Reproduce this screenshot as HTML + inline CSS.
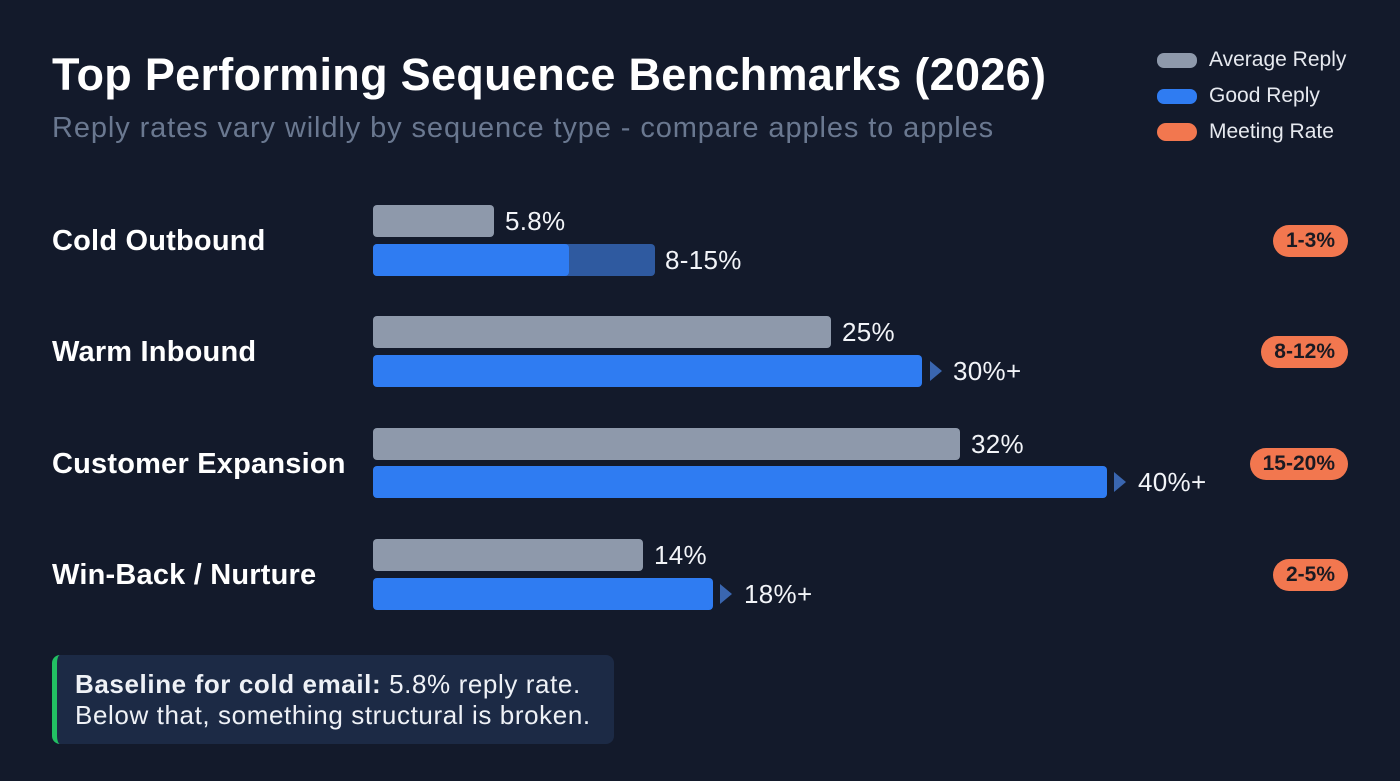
<!DOCTYPE html>
<html><head><meta charset="utf-8"><style>
*{margin:0;padding:0;box-sizing:border-box}
body{width:1400px;height:781px;background:#131a2b;font-family:"Liberation Sans",sans-serif;position:relative;overflow:hidden;color:#fff}
.a{position:absolute;white-space:nowrap}
.g{position:absolute;background:#8e99ab;border-radius:4px;height:32px;left:373px}
.b{position:absolute;background:#2f7cf2;border-radius:4px;height:32px;left:373px}
.v{position:absolute;font-size:26px;color:#f2f4f8;line-height:32px;letter-spacing:0.3px}
.c{position:absolute;left:52px;font-size:29px;font-weight:bold;line-height:32px;letter-spacing:0.2px}
.t{position:absolute;width:0;height:0;border-top:10px solid transparent;border-bottom:10px solid transparent;border-left:12px solid #3a66b0}
.p{position:absolute;right:52px;height:32px;border-radius:16px;background:#f2774f;color:#1a1a22;font-weight:bold;font-size:21px;line-height:32px;padding:0 13px}
.sw{position:absolute;left:1157px;width:40px;height:15px;border-radius:7px}
.lg{position:absolute;left:1209px;font-size:21px;color:#e6e9ef;line-height:24px}
</style></head><body>
<div class="a" style="left:52px;top:49px;font-size:45px;font-weight:bold;line-height:52px;letter-spacing:0.3px">Top Performing Sequence Benchmarks (2026)</div>
<div class="a" style="left:52px;top:111px;font-size:29px;color:#6a7890;line-height:34px;letter-spacing:0.9px">Reply rates vary wildly by sequence type - compare apples to apples</div>

<div class="sw" style="top:53px;background:#8e99ab"></div><div class="lg" style="top:48px">Average Reply</div>
<div class="sw" style="top:89px;background:#2f7cf2"></div><div class="lg" style="top:84px">Good Reply</div>
<div class="sw" style="top:123px;height:18px;border-radius:9px;background:#f2774f"></div><div class="lg" style="top:120px">Meeting Rate</div>

<div class="c" style="top:225px">Cold Outbound</div>
<div class="g" style="top:205px;width:121px"></div><div class="v" style="left:505px;top:205px">5.8%</div>
<div class="b" style="top:244px;width:282px;background:#2f5aa0"></div>
<div class="b" style="top:244px;width:196px"></div><div class="v" style="left:665px;top:244px">8-15%</div>
<div class="p" style="top:225px">1-3%</div>

<div class="c" style="top:336px">Warm Inbound</div>
<div class="g" style="top:316px;width:458px"></div><div class="v" style="left:842px;top:316px">25%</div>
<div class="b" style="top:355px;width:549px"></div><div class="t" style="left:930px;top:361px"></div><div class="v" style="left:953px;top:355px">30%+</div>
<div class="p" style="top:336px">8-12%</div>

<div class="c" style="top:448px">Customer Expansion</div>
<div class="g" style="top:428px;width:587px"></div><div class="v" style="left:971px;top:428px">32%</div>
<div class="b" style="top:466px;width:734px"></div><div class="t" style="left:1114px;top:472px"></div><div class="v" style="left:1138px;top:466px">40%+</div>
<div class="p" style="top:448px">15-20%</div>

<div class="c" style="top:559px">Win-Back / Nurture</div>
<div class="g" style="top:539px;width:270px"></div><div class="v" style="left:654px;top:539px">14%</div>
<div class="b" style="top:578px;width:340px"></div><div class="t" style="left:720px;top:584px"></div><div class="v" style="left:744px;top:578px">18%+</div>
<div class="p" style="top:559px">2-5%</div>

<div class="a" style="left:52px;top:655px;width:562px;height:89px;background:#1c2a45;border-radius:8px;border-left:5px solid #22c063"></div>
<div class="a" style="left:75px;top:669px;font-size:26px;line-height:31px;color:#eef1f6;letter-spacing:0.6px"><b>Baseline for cold email:</b> 5.8% reply rate.<br>Below that, something structural is broken.</div>
</body></html>
